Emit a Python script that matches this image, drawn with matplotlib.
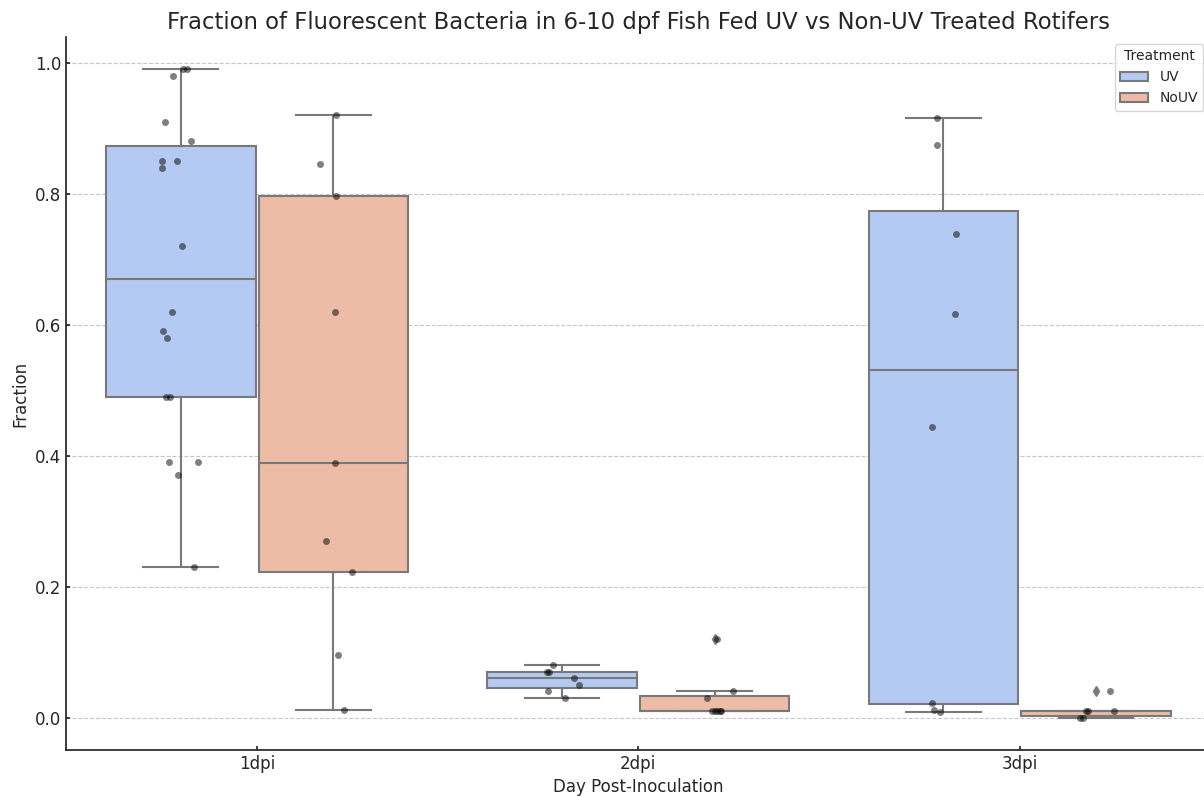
import colorsys
import numpy as np
import matplotlib
matplotlib.use("Agg")
import matplotlib.pyplot as plt
from matplotlib.patches import Patch

days = ["1dpi", "2dpi", "3dpi"]
treatments = ["UV", "NoUV"]

# fraction of fluorescent bacteria per fish
uv_1dpi = [0.99, 0.99, 0.98, 0.91, 0.88, 0.85, 0.85, 0.84, 0.72, 0.62,
           0.59, 0.58, 0.49, 0.49, 0.39, 0.39, 0.37, 0.23]
nouv_1dpi = [0.92, 0.845, 0.797, 0.619, 0.389, 0.27, 0.222, 0.096, 0.012]
uv_2dpi = [0.08, 0.07, 0.07, 0.06, 0.05, 0.04, 0.03]
nouv_2dpi = [0.12, 0.04, 0.03, 0.01, 0.01, 0.01, 0.01, 0.01]
uv_3dpi = [0.916, 0.875, 0.739, 0.617, 0.444, 0.023, 0.012, 0.009]
nouv_3dpi = [0.04, 0.01, 0.01, 0.01, 0.0, 0.0]

# horizontal jitter of the strip points (same order as the values above)
jit_uv_1dpi = [0.005, 0.015, -0.02, -0.042, 0.027, -0.05, -0.011, -0.05, 0.004,
               -0.022, -0.047, -0.037, -0.039, -0.028, -0.031, 0.046, -0.008, 0.035]
jit_nouv_1dpi = [0.007, -0.035, 0.007, 0.005, 0.005, -0.018, 0.049, 0.013, 0.029]
jit_uv_2dpi = [-0.024, -0.04, -0.034, 0.03, 0.043, -0.037, 0.007]
jit_nouv_2dpi = [0.005, 0.049, -0.02, -0.008, 0.0, 0.005, 0.013, 0.018]
jit_uv_3dpi = [-0.016, -0.016, 0.034, 0.031, -0.029, -0.031, -0.024, -0.01]
jit_nouv_3dpi = [0.038, -0.025, 0.048, -0.02, -0.041, -0.033]

groups = {
    ("1dpi", "UV"): (uv_1dpi, jit_uv_1dpi),
    ("1dpi", "NoUV"): (nouv_1dpi, jit_nouv_1dpi),
    ("2dpi", "UV"): (uv_2dpi, jit_uv_2dpi),
    ("2dpi", "NoUV"): (nouv_2dpi, jit_nouv_2dpi),
    ("3dpi", "UV"): (uv_3dpi, jit_uv_3dpi),
    ("3dpi", "NoUV"): (nouv_3dpi, jit_nouv_3dpi),
}


def desaturate(c, prop):
    h, l, s = colorsys.rgb_to_hls(*c[:3])
    return colorsys.hls_to_rgb(h, l, s * prop)


cmap = plt.get_cmap("coolwarm")
fills = [desaturate(cmap(v), 0.75) for v in np.linspace(0, 1, 4)[1:-1]]
lum = min(colorsys.rgb_to_hls(*c)[1] for c in fills) * 0.6
gray = (lum, lum, lum)
ink = "0.15"

plt.rcParams.update({
    "text.color": ink, "axes.labelcolor": ink,
    "xtick.color": ink, "ytick.color": ink, "axes.edgecolor": ink,
})

fig = plt.figure(figsize=(12.04, 7.97), dpi=100)
ax = fig.add_axes([0.0552, 0.059, 0.95, 0.8946])

offsets = [-0.2, 0.2]
for i, day in enumerate(days):
    for j, tr in enumerate(treatments):
        vals, jit = groups[(day, tr)]
        pos = i + offsets[j]
        ax.boxplot(vals, positions=[pos], widths=0.392, patch_artist=True,
                   manage_ticks=False,
                   boxprops=dict(facecolor=fills[j], edgecolor=gray, linewidth=1.5),
                   medianprops=dict(color=gray, linewidth=1.5),
                   whiskerprops=dict(color=gray, linewidth=1.5),
                   capprops=dict(color=gray, linewidth=1.5),
                   flierprops=dict(marker="d", markerfacecolor=gray,
                                   markeredgecolor=gray, markersize=5))
        ax.scatter(pos + np.array(jit), vals, s=25, color="black", alpha=0.5,
                   linewidths=0, zorder=3)

ax.set_xlim(-0.5, 2.5)
ax.set_xticks(range(len(days)))
ax.set_xticklabels(days)
ax.set_yticks(np.arange(0, 1.01, 0.2))
ax.tick_params(labelsize=12, width=1.25, length=3, direction="in")
ax.yaxis.grid(True, linestyle="--", alpha=0.7)
ax.set_axisbelow(True)
for s in ["top", "right"]:
    ax.spines[s].set_visible(False)
for s in ["left", "bottom"]:
    ax.spines[s].set_linewidth(1.25)

ax.set_xlabel("Day Post-Inoculation", fontsize=12)
ax.set_ylabel("Fraction", fontsize=12)
ax.set_title("Fraction of Fluorescent Bacteria in 6-10 dpf Fish Fed UV vs Non-UV Treated Rotifers",
             fontsize=16.4)

handles = [Patch(facecolor=fills[k], edgecolor=gray, linewidth=1.5, label=t)
           for k, t in enumerate(treatments)]
ax.legend(handles=handles, title="Treatment", loc="upper right")

fig.savefig("out.png", dpi=100)
